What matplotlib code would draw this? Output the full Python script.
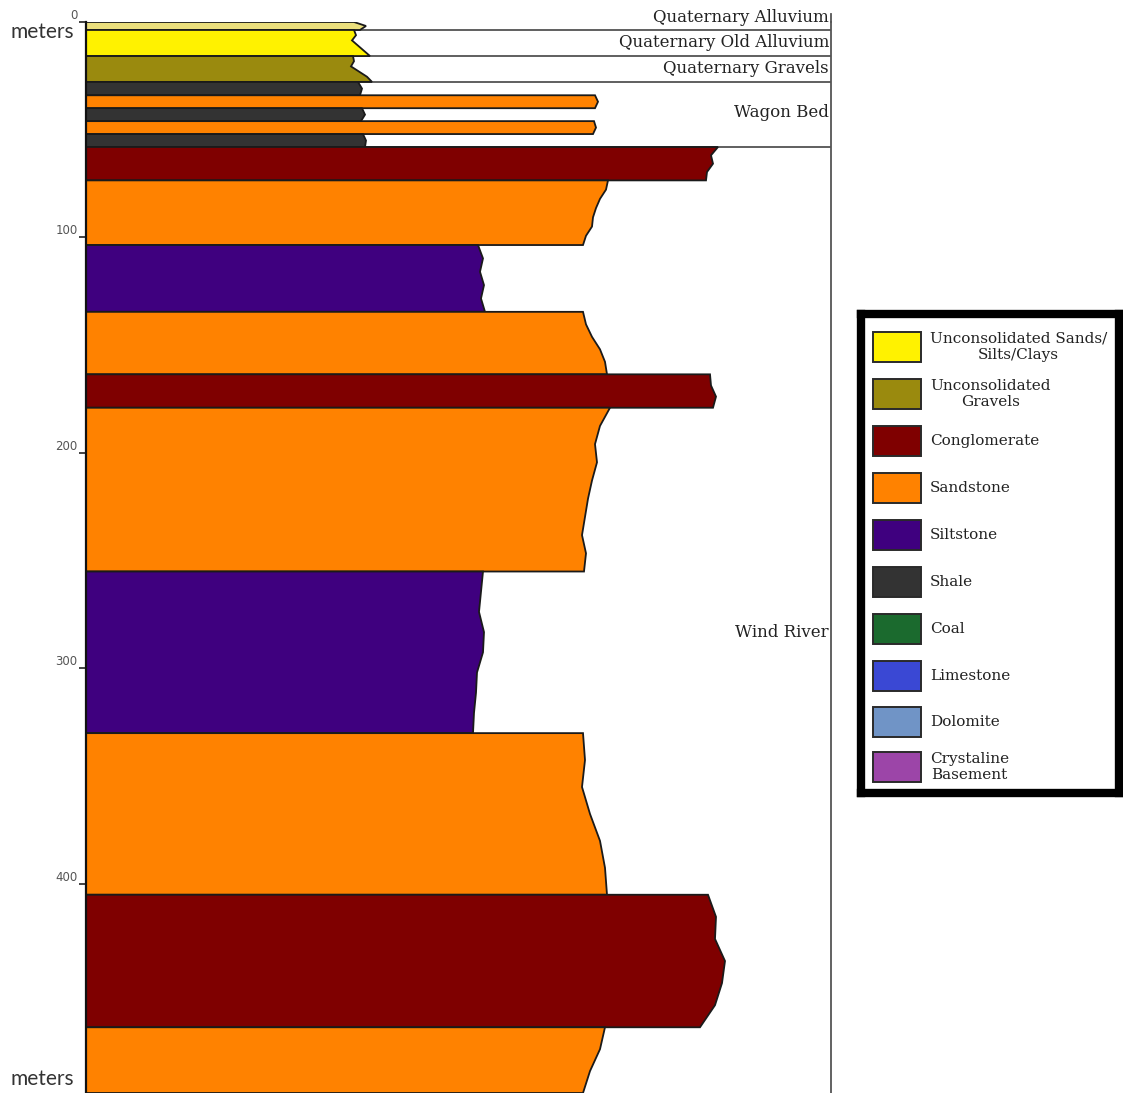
import numpy as np
import matplotlib.pyplot as plt
from matplotlib.patches import Polygon, Rectangle

# legend entries
lith_keys = ["sands", "gravels", "conglomerate", "sandstone", "siltstone",
             "shale", "coal", "limestone", "dolomite", "basement"]
lith_labels = ["Unconsolidated Sands/\nSilts/Clays", "Unconsolidated\nGravels",
               "Conglomerate", "Sandstone", "Siltstone", "Shale", "Coal",
               "Limestone", "Dolomite", "Crystaline\nBasement"]
lith_colors = ["#fff200", "#9a8a0e", "#7f0000", "#ff8200", "#3f007f",
               "#333333", "#1b6a2e", "#3a48d4", "#7094c6", "#9c45a8"]
colors = dict(zip(lith_keys, lith_colors))
colors["alluvium"] = "#ebdf7c"

# column layers, top to bottom (depth in m)
layer_lith = ["alluvium", "sands", "gravels", "shale", "sandstone", "shale",
              "sandstone", "shale", "conglomerate", "sandstone", "siltstone",
              "sandstone", "conglomerate", "sandstone", "siltstone",
              "sandstone", "conglomerate", "sandstone"]
layer_top = [0, 3.7, 15.8, 27.8, 34, 40, 46, 52, 58, 73.5, 103.5, 134.5,
             163.5, 179, 255, 330, 405, 466.5]
layer_base = layer_top[1:] + [497]
# right-hand edge (weathering profile), sampled from top to base of each bed
layer_edge = [
    [268, 280, 274],
    [268, 270, 266, 272, 278, 284],
    [267, 268, 265, 273, 281, 286],
    [272, 276, 274],
    [509, 512, 509],
    [276, 279, 275],
    [508, 510, 507],
    [277, 280, 279],
    [632, 625, 627, 621, 620],
    [522, 520, 514, 510, 507, 506, 500, 497],
    [392, 397, 394, 398, 395, 399],
    [497, 500, 506, 514, 519, 521],
    [624, 625, 630, 627],
    [524, 514, 509, 511, 506, 502, 499, 496, 500, 498],
    [397, 395, 393, 398, 397, 391, 390, 388, 387],
    [497, 499, 496, 504, 514, 519, 521],
    [622, 630, 629, 639, 636, 629, 614],
    [519, 514, 504, 497],
]

formation_names = ["Quaternary Alluvium", "Quaternary Old Alluvium",
                   "Quaternary Gravels", "Wagon Bed", "Wind River"]
formation_label_depth = [-1.9, 9.3, 21.8, 41.8, 283.5]
formation_base = [3.7, 15.8, 27.8, 58]

depth_ticks = [0, 100, 200, 300, 400]

W, H = 1123, 1093
fig = plt.figure(figsize=(W / 100, H / 100), dpi=100)

# stratigraphic column, placed in pixel units
x0, x1, y0, y1 = 86, 831, 22, 1093
ax = fig.add_axes([x0 / W, 1 - y1 / H, (x1 - x0) / W, (y1 - y0) / H])
ax.set_xlim(0, x1 - x0)
ax.set_ylim(497, 0)

for base in formation_base:
    ax.hlines(base, 0, x1 - x0, color="#444444", lw=1.2, zorder=1)

for lith, top, base, edge in zip(layer_lith, layer_top, layer_base, layer_edge):
    ys = np.linspace(top, base, len(edge))
    pts = [(0, top)] + list(zip(edge, ys)) + [(0, base)]
    ax.add_patch(Polygon(pts, closed=True, facecolor=colors[lith],
                         edgecolor="#1a1a1a", lw=1.3, zorder=2))

for name, d in zip(formation_names, formation_label_depth):
    ax.text(x1 - x0 - 2, d, name, ha="right", va="center", family="DejaVu Serif",
            fontsize=12, color="#222222", clip_on=False, zorder=3)

for s in ["top", "bottom"]:
    ax.spines[s].set_visible(False)
ax.spines["left"].set_color("#111111")
ax.spines["left"].set_linewidth(1.6)
ax.spines["left"].set_zorder(4)
ax.spines["right"].set_color("#555555")
ax.spines["right"].set_linewidth(1.3)
ax.plot([x1 - x0, x1 - x0], [-3.6, 0], color="#555555", lw=1.3, clip_on=False)

ax.set_xticks([])
ax.set_yticks(depth_ticks)
ax.set_yticklabels([str(t) for t in depth_ticks], va="bottom",
                   fontsize=8.5, color="#555555")
ax.tick_params(axis="y", length=5, width=1.2, color="#222222", pad=1)

fig.text(10 / W, 1 - 32 / H, "meters", ha="left", va="center",
         family="Lato", fontsize=15, color="#333333")
fig.text(10 / W, 1 - 1079 / H, "meters", ha="left", va="center",
         family="Lato", fontsize=15, color="#333333")

# legend box
lx0, lx1, ly0, ly1 = 861, 1119, 314, 793
lax = fig.add_axes([lx0 / W, 1 - ly1 / H, (lx1 - lx0) / W, (ly1 - ly0) / H])
lax.set_xlim(lx0, lx1)
lax.set_ylim(ly1, ly0)
lax.set_xticks([])
lax.set_yticks([])
for s in lax.spines.values():
    s.set_linewidth(6)
    s.set_color("black")

swatch_y = [347, 394, 441, 488, 535, 582, 629, 676, 722, 767]
for label, color, yc in zip(lith_labels, lith_colors, swatch_y):
    lax.add_patch(Rectangle((873, yc - 15), 48, 30, facecolor=color,
                            edgecolor="#2a2a2a", lw=1.4))
    lax.text(930, yc, label, ha="left", va="center", multialignment="center",
             family="DejaVu Serif", fontsize=11, color="#222222",
             linespacing=1.2)

fig.savefig("out.png", dpi=100, facecolor="white")
